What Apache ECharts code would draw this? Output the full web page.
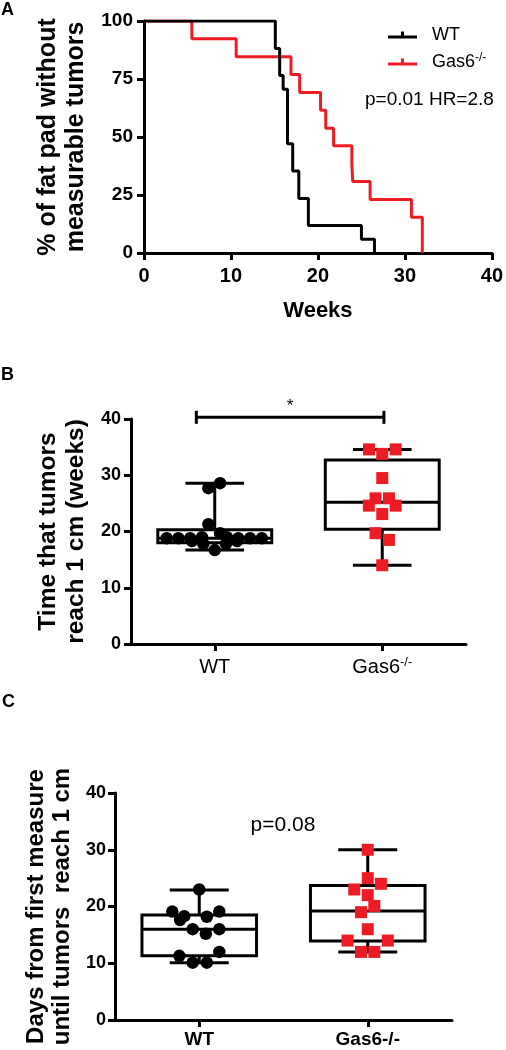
<!DOCTYPE html>
<html><head><meta charset="utf-8">
<script src="https://cdn.jsdelivr.net/npm/echarts@6/dist/echarts.min.js"></script>
<style>html,body{margin:0;padding:0;background:#fff}#c{width:506px;height:1050px}</style>
</head><body><div id="c"></div>
<script>
const FONT = '"Liberation Sans", Arial, Helvetica, sans-serif';
const RED = '#ed1c24';

// ---- Panel A: Kaplan-Meier ----
const wtTimes = [0, 15.1, 15.6, 16.0, 16.5, 17.1, 17.8, 18.9, 25.0, 26.5];
const wtSurv  = [100, 88.2, 76.5, 70.6, 47.1, 35.3, 23.5, 11.8, 5.9, 0];
const gasTimes = [0, 5.5, 10.6, 16.9, 17.9, 20.3, 20.9, 21.8, 23.9, 24.0, 26.0, 30.75, 32.0];
const gasSurv  = [100, 92.3, 84.6, 76.9, 69.2, 61.5, 53.8, 46.2, 38.5, 30.8, 23.1, 15.4, 0];

// ---- Panel B: time to 1 cm (weeks) ----
const groups = ['WT', 'Gas6-/-'];
const boxB_WT  = [16.7, 18.0, 18.8, 20.3, 28.6];   // min, Q1, median, Q3, max
const boxB_Gas = [14.0, 20.4, 25.2, 32.7, 34.6];
const ptsB_WT  = [28.6, 27.7, 21.3, 19.7, 18.8, 18.8, 18.8, 18.8, 18.8, 18.8, 19.0, 19.0, 18.3, 18.3, 17.8, 17.8, 16.7];
const jitB_WT  = [0.032, -0.038, -0.038, 0.032, -0.287, -0.217, -0.147, 0.141, 0.211, 0.281, -0.076, 0.073, -0.136, 0.133, -0.068, 0.067, 0];
const ptsB_Gas = [34.6, 34.6, 33.8, 29.5, 25.9, 25.9, 24.6, 24.6, 23.1, 19.7, 18.5, 14.0];
const jitB_Gas = [-0.079, 0.080, 0, 0, -0.040, 0.040, -0.080, 0.080, 0, -0.040, 0.040, 0];

// ---- Panel C: days from first measure ----
const boxC_WT  = [10.1, 11.3, 16.0, 18.5, 22.9];
const boxC_Gas = [12.0, 13.9, 19.2, 23.7, 30.0];
const ptsC_WT  = [23.0, 19.1, 19.1, 17.6, 18.3, 18.2, 16.0, 16.0, 15.2, 11.3, 12.0, 10.1, 10.1];
const jitC_WT  = [0, -0.160, 0.119, -0.114, -0.089, 0.045, -0.039, 0.119, 0.039, -0.118, 0.119, -0.039, 0.045];
const ptsC_Gas = [30.0, 25.0, 24.0, 23.0, 22.0, 20.1, 19.0, 16.0, 14.0, 14.0, 12.0, 12.0];
const jitC_Gas = [0, 0, 0.078, -0.080, 0, 0.039, -0.040, 0, -0.120, 0.119, -0.040, 0.039];

const bracketB = [0.39, 1.51, 40.3]; // x-from, x-to (group units), y level

const pair = (t, s) => t.map((v, i) => [v, s[i]]);
const jit = (ci, pts, j) => pts.map((v, i) => [ci + 0.5 + j[i], v]);

const axLine = {show: true, onZero: false, lineStyle: {color: '#000', width: 3}};
const axTick = {show: true, length: 7, lineStyle: {color: '#000', width: 3}};
const lbl = (size, weight, margin) => ({color: '#000', fontFamily: FONT, fontSize: size, fontWeight: weight, margin: margin});
const nameStyle = (fs, lh) => ({color: '#000', fontFamily: FONT, fontSize: fs, fontWeight: 'bold', lineHeight: lh});

function boxRender(params, api) {
  const c = api.value(0);
  const pMin = api.coord([c, api.value(1)]);
  const pQ1 = api.coord([c, api.value(2)]);
  const pMed = api.coord([c, api.value(3)]);
  const pQ3 = api.coord([c, api.value(4)]);
  const pMax = api.coord([c, api.value(5)]);
  const band = api.size([1, 0])[0];
  const bw = band * 0.68, cw = band * 0.35;
  const x = pMed[0];
  const st = {stroke: '#000', lineWidth: 3, fill: 'none'};
  return {type: 'group', children: [
    {type: 'line', shape: {x1: x, y1: pQ3[1], x2: x, y2: pMax[1]}, style: st},
    {type: 'line', shape: {x1: x, y1: pQ1[1], x2: x, y2: pMin[1]}, style: st},
    {type: 'line', shape: {x1: x - cw / 2, y1: pMax[1], x2: x + cw / 2, y2: pMax[1]}, style: st},
    {type: 'line', shape: {x1: x - cw / 2, y1: pMin[1], x2: x + cw / 2, y2: pMin[1]}, style: st},
    {type: 'rect', shape: {x: x - bw / 2, y: pQ3[1], width: bw, height: pQ1[1] - pQ3[1]}, style: st},
    {type: 'line', shape: {x1: x - bw / 2, y1: pMed[1], x2: x + bw / 2, y2: pMed[1]}, style: st}
  ]};
}

function bracketRender(params, api) {
  const a = api.coord([api.value(0), api.value(2)]);
  const b = api.coord([api.value(1), api.value(2)]);
  const st = {stroke: '#000', lineWidth: 3};
  return {type: 'group', children: [
    {type: 'line', shape: {x1: a[0], y1: a[1], x2: b[0], y2: b[1]}, style: st},
    {type: 'line', shape: {x1: a[0], y1: a[1] - 6.5, x2: a[0], y2: a[1] + 6.5}, style: st},
    {type: 'line', shape: {x1: b[0], y1: b[1] - 6.5, x2: b[0], y2: b[1] + 6.5}, style: st},
    {type: 'text', x: (a[0] + b[0]) / 2, y: a[1] - 11, style: {text: '*', fontFamily: FONT, fontSize: 17, fill: '#000', align: 'center', verticalAlign: 'middle'}}
  ]};
}

const ICON = 'path://M0,6H29V9H0Z M13,2H16V6H13Z';
const catFmtB = v => v === 'Gas6-/-' ? '{n|Gas6}{s|-/-}' : '{n|' + v + '}';

const chart = echarts.init(document.getElementById('c'), null, {renderer: 'canvas'});
chart.setOption({
  animation: false,
  backgroundColor: '#fff',
  textStyle: {fontFamily: FONT},
  grid: [
    {left: 144, top: 21, width: 349, height: 232},
    {left: 131, top: 419, width: 335, height: 225},
    {left: 115, top: 793, width: 337, height: 227}
  ],
  legend: {
    left: 383, top: 21, orient: 'vertical', itemWidth: 29, itemHeight: 7, itemGap: 8,
    data: [{name: 'WT', icon: ICON}, {name: 'Gas6-/-', icon: ICON}],
    formatter: n => n === 'WT' ? '{n|WT}' : '{n|Gas6}{s|-/-}',
    textStyle: {rich: {
      n: {fontSize: 18, fontFamily: FONT, color: '#000', padding: [0, 0, 0, 10], lineHeight: 20},
      s: {fontSize: 12, fontFamily: FONT, color: '#000', verticalAlign: 'top', lineHeight: 12}
    }}
  },
  xAxis: [
    {gridIndex: 0, type: 'value', min: 0, max: 40, interval: 10, axisLine: axLine, axisTick: axTick,
     splitLine: {show: false}, axisLabel: lbl(20, 'bold', 13),
     name: 'Weeks', nameLocation: 'middle', nameGap: 47,
     nameTextStyle: {color: '#000', fontFamily: FONT, fontSize: 22, fontWeight: 'bold'}},
    {gridIndex: 1, type: 'category', data: groups, boundaryGap: true, axisLine: axLine,
     axisTick: Object.assign({alignWithLabel: true}, axTick),
     axisLabel: Object.assign(lbl(20, 'normal', 12), {formatter: catFmtB, rich: {
       n: {fontSize: 20, fontFamily: FONT, color: '#000', lineHeight: 22},
       s: {fontSize: 13, fontFamily: FONT, color: '#000', verticalAlign: 'top', lineHeight: 13}}})},
    {gridIndex: 1, type: 'value', min: 0, max: 2, show: false, position: 'bottom'},
    {gridIndex: 2, type: 'category', data: groups, boundaryGap: true, axisLine: axLine,
     axisTick: Object.assign({alignWithLabel: true}, axTick), axisLabel: lbl(19, 'bold', 10)},
    {gridIndex: 2, type: 'value', min: 0, max: 2, show: false, position: 'bottom'}
  ],
  yAxis: [
    {gridIndex: 0, type: 'value', min: 0, max: 100, interval: 25, axisLine: axLine, axisTick: axTick,
     splitLine: {show: false}, axisLabel: lbl(19, 'bold', 11),
     name: '% of fat pad without\nmeasurable tumors', nameLocation: 'middle', nameRotate: 90, nameGap: 54,
     nameTextStyle: nameStyle(25, 28)},
    {gridIndex: 1, type: 'value', min: 0, max: 40, interval: 10, axisLine: axLine, axisTick: axTick,
     splitLine: {show: false}, axisLabel: lbl(18, 'bold', 10),
     name: 'Time that tumors\nreach 1 cm (weeks)', nameLocation: 'middle', nameRotate: 90, nameGap: 38,
     nameTextStyle: nameStyle(24.5, 28)},
    {gridIndex: 2, type: 'value', min: 0, max: 40, interval: 10, axisLine: axLine, axisTick: axTick,
     splitLine: {show: false}, axisLabel: lbl(18, 'bold', 9),
     name: 'Days from first measure\nuntil tumors  reach 1 cm', nameLocation: 'middle', nameRotate: 90, nameGap: 37,
     nameTextStyle: nameStyle(24, 26)}
  ],
  series: [
    {name: 'Gas6-/-', type: 'line', xAxisIndex: 0, yAxisIndex: 0, step: 'end', symbol: 'none',
     data: pair(gasTimes, gasSurv), lineStyle: {color: RED, width: 3}, itemStyle: {color: RED}},
    {name: 'WT', type: 'line', xAxisIndex: 0, yAxisIndex: 0, step: 'end', symbol: 'none',
     data: pair(wtTimes, wtSurv), lineStyle: {color: '#000', width: 3}, itemStyle: {color: '#000'}},

    {type: 'custom', xAxisIndex: 1, yAxisIndex: 1, renderItem: boxRender, encode: {x: 0, y: [1, 2, 3, 4, 5]},
     data: [[0].concat(boxB_WT), [1].concat(boxB_Gas)], silent: true},
    {type: 'scatter', xAxisIndex: 2, yAxisIndex: 1, symbol: 'circle', symbolSize: 12.5,
     data: jit(0, ptsB_WT, jitB_WT), itemStyle: {color: '#000', opacity: 1}},
    {type: 'scatter', xAxisIndex: 2, yAxisIndex: 1, symbol: 'rect', symbolSize: 12,
     data: jit(1, ptsB_Gas, jitB_Gas), itemStyle: {color: RED, opacity: 1}},
    {type: 'custom', xAxisIndex: 2, yAxisIndex: 1, renderItem: bracketRender, clip: false,
     encode: {x: [0, 1], y: 2}, data: [bracketB], silent: true},

    {type: 'custom', xAxisIndex: 3, yAxisIndex: 2, renderItem: boxRender, encode: {x: 0, y: [1, 2, 3, 4, 5]},
     data: [[0].concat(boxC_WT), [1].concat(boxC_Gas)], silent: true},
    {type: 'scatter', xAxisIndex: 4, yAxisIndex: 2, symbol: 'circle', symbolSize: 12.5,
     data: jit(0, ptsC_WT, jitC_WT), itemStyle: {color: '#000', opacity: 1}},
    {type: 'scatter', xAxisIndex: 4, yAxisIndex: 2, symbol: 'rect', symbolSize: 12,
     data: jit(1, ptsC_Gas, jitC_Gas), itemStyle: {color: RED, opacity: 1}}
  ],
  graphic: [
    {type: 'text', x: 1, y: 10, style: {text: 'A', fontFamily: FONT, fontSize: 18, fontWeight: 'bold', fill: '#000', verticalAlign: 'middle'}},
    {type: 'text', x: 1, y: 375, style: {text: 'B', fontFamily: FONT, fontSize: 18, fontWeight: 'bold', fill: '#000', verticalAlign: 'middle'}},
    {type: 'text', x: 2, y: 702, style: {text: 'C', fontFamily: FONT, fontSize: 18, fontWeight: 'bold', fill: '#000', verticalAlign: 'middle'}},
    {type: 'text', x: 365, y: 100, style: {text: 'p=0.01 HR=2.8', fontFamily: FONT, fontSize: 19, fill: '#000', verticalAlign: 'middle'}},
    {type: 'text', x: 283, y: 825, style: {text: 'p=0.08', fontFamily: FONT, fontSize: 21, fill: '#000', align: 'center', verticalAlign: 'middle'}}
  ]
});
</script>
</body></html>
